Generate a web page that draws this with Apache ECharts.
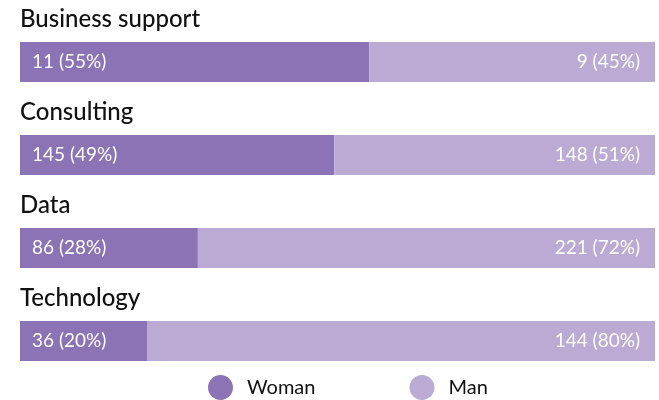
<!DOCTYPE html>
<html><head><meta charset="utf-8">
<script src="https://cdn.jsdelivr.net/npm/echarts@6/dist/echarts.min.js"></script>
<style>html,body{margin:0;padding:0;background:#fff}#c{width:659px;height:400px}</style>
</head><body><div id="c"></div>
<script>
const categories = ["Business support", "Consulting", "Data", "Technology"];
const woman = [11, 145, 86, 36];
const man = [9, 148, 221, 144];
const seriesNames = ["Woman", "Man"];
const colors = ["#8c73b5", "#bbaad4"];
const FONT = "Lato";

const grids = [], xAxes = [], yAxes = [], titles = [], series = [];
categories.forEach((cat, i) => {
  const total = woman[i] + man[i];
  const vals = [woman[i], man[i]];
  grids.push({left: 20, right: 4, top: 42 + i * 93, height: 40});
  xAxes.push({type: 'value', gridIndex: i, min: 0, max: 100, show: false});
  yAxes.push({type: 'category', gridIndex: i, data: [cat], show: false});
  titles.push({text: cat, left: 20, top: 7 + i * 93, padding: 0,
    textStyle: {fontFamily: FONT, fontSize: 24, fontWeight: 500, color: '#111'}});
  vals.forEach((v, k) => {
    const pct = v / total * 100;
    series.push({
      name: seriesNames[k], type: 'bar', stack: 's' + i,
      xAxisIndex: i, yAxisIndex: i, barWidth: 40,
      itemStyle: {color: colors[k]},
      label: {show: true, position: k === 0 ? 'insideLeft' : 'insideRight',
        distance: k === 0 ? 12 : 15, color: '#fff', fontFamily: FONT, fontSize: 19,
        formatter: () => v + ' (' + Math.round(pct) + '%)'},
      data: [pct], silent: true
    });
  });
});

const chart = echarts.init(document.getElementById('c'));
chart.setOption({
  animation: false,
  title: titles,
  grid: grids, xAxis: xAxes, yAxis: yAxes, series: series,
  legend: {data: seriesNames, left: 208, top: 375, padding: 0, icon: 'circle', itemWidth: 25, itemHeight: 25,
    itemGap: 94, textStyle: {fontFamily: FONT, fontSize: 20, color: '#111', padding: [0, 0, 0, 9]}}
});
</script></body></html>
